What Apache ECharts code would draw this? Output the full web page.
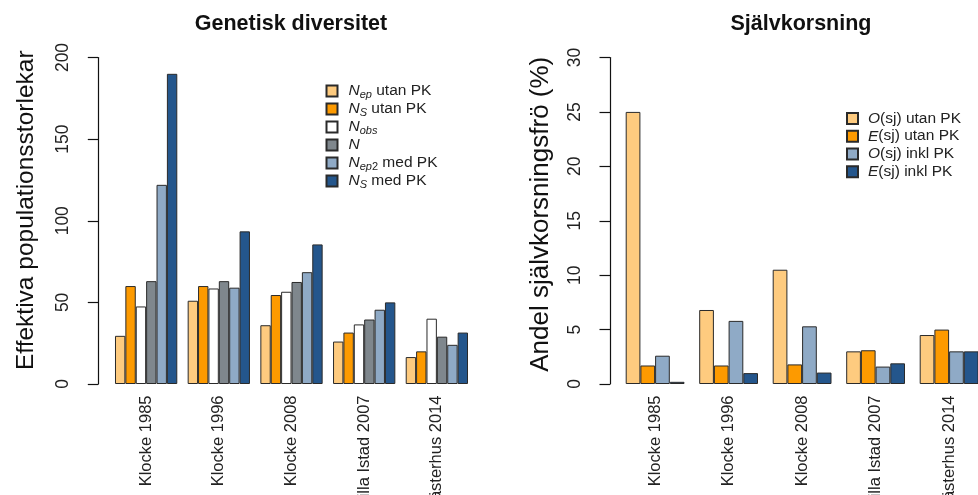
<!DOCTYPE html>
<html>
<head>
<meta charset="utf-8">
<script src="https://cdn.jsdelivr.net/npm/echarts@6/dist/echarts.min.js"></script>
<style>
html,body{margin:0;padding:0;background:#fff;}
#c{width:978px;height:495px;}
</style>
</head>
<body>
<div id="c"></div>
<script>
// ---------- data ----------
var categories = ['Klocke 1985', 'Klocke 1996', 'Klocke 2008', 'Lilla Istad 2007', 'Västerhus 2014'];

// Genetisk diversitet
var nepUtan  = [29.5, 51, 36, 26, 16.5];
var nsUtan   = [60, 60, 54.5, 31.5, 20];
var nObs     = [47.5, 58.5, 56.5, 36.5, 40];
var nTot     = [63, 63, 62.5, 39.5, 29];
var nep2Med  = [122, 59, 68.5, 45.5, 24];
var nsMed    = [190, 93.5, 85.5, 50, 31.5];

// Självkorsning (%)
var oUtan = [25, 6.8, 10.5, 3.0, 4.5];
var eUtan = [1.7, 1.7, 1.8, 3.1, 5.0];
var oInkl = [2.6, 5.8, 5.3, 1.6, 3.0];
var eInkl = [0.2, 1.0, 1.05, 1.9, 3.0];

var leftTitle = 'Genetisk diversitet';
var rightTitle = 'Självkorsning';
var leftYName = 'Effektiva populationsstorlekar';
var rightYName = 'Andel självkorsningsfrö (%)';

// ---------- styling ----------
var C = {
  lo: '#FECB7F', or: '#FD9A00', wh: '#FFFFFF', gr: '#7F878D', lb: '#8FAAC6', db: '#24568C'
};
var FONT = '"Liberation Sans", Arial, Helvetica, sans-serif';
var borderC = '#2a2a2a';

var leftSeries = [
  {name: 'Nep utan PK', data: nepUtan, color: C.lo, label: '{it|N}{sub|ep}{n| utan PK}'},
  {name: 'NS utan PK', data: nsUtan, color: C.or, label: '{it|N}{sub|S}{n| utan PK}'},
  {name: 'Nobs', data: nObs, color: C.wh, label: '{it|N}{sub|obs}'},
  {name: 'N', data: nTot, color: C.gr, label: '{it|N}'},
  {name: 'Nep2 med PK', data: nep2Med, color: C.lb, label: '{it|N}{sub|ep}{subn|2}{n| med PK}'},
  {name: 'NS med PK', data: nsMed, color: C.db, label: '{it|N}{sub|S}{n| med PK}'}
];
var rightSeries = [
  {name: 'O utan', data: oUtan, color: C.lo, label: '{it|O}{n|(sj) utan PK}'},
  {name: 'E utan', data: eUtan, color: C.or, label: '{it|E}{n|(sj) utan PK}'},
  {name: 'O inkl', data: oInkl, color: C.lb, label: '{it|O}{n|(sj) inkl PK}'},
  {name: 'E inkl', data: eInkl, color: C.db, label: '{it|E}{n|(sj) inkl PK}'}
];
var labelMap = {};
leftSeries.concat(rightSeries).forEach(function (s) { labelMap[s.name] = s.label; });

function richFor(lh) {
  return {
    it: {fontStyle: 'italic', fontSize: 15.5, lineHeight: lh, fontFamily: FONT, color: '#222'},
    n: {fontSize: 15.5, lineHeight: lh, fontFamily: FONT, color: '#222'},
    sub: {fontStyle: 'italic', fontSize: 11, lineHeight: lh, verticalAlign: 'bottom', fontFamily: FONT, color: '#222'},
    subn: {fontSize: 11, lineHeight: lh, verticalAlign: 'bottom', fontFamily: FONT, color: '#222'}
  };
}

function mkSeries(list, idx, catGap) {
  return list.map(function (s) {
    return {
      type: 'bar', name: s.name, data: s.data,
      xAxisIndex: idx, yAxisIndex: idx,
      barGap: '0%', barCategoryGap: catGap,
      itemStyle: {color: s.color, borderColor: borderC, borderWidth: 1},
      emphasis: {disabled: true},
      animation: false
    };
  });
}

function mkX(idx) {
  return {
    type: 'category', gridIndex: idx, data: categories,
    axisLine: {show: false}, axisTick: {show: false},
    axisLabel: {interval: 0, rotate: 90, fontSize: 16.5, margin: 11.5, color: '#222', fontFamily: FONT},
    splitLine: {show: false}
  };
}
function mkY(idx, max, interval, offset, name, nameGap, nameSize, shift) {
  return {
    type: 'value', gridIndex: idx, min: 0, max: max, interval: interval, offset: offset,
    axisLine: {show: true, lineStyle: {color: '#111', width: 1.2}},
    axisTick: {show: true, length: 10.5, lineStyle: {color: '#111', width: 1.2}},
    axisLabel: {rotate: 90, fontSize: 17.5, margin: 26, color: '#222', fontFamily: FONT},
    splitLine: {show: false},
    name: name, nameLocation: 'middle', nameGap: nameGap,
    nameTextStyle: {fontSize: nameSize, color: '#111', fontFamily: FONT, padding: [0, 0, 0, shift]}
  };
}

var chart = echarts.init(document.getElementById('c'), null, {renderer: 'canvas'});
chart.setOption({
  animation: false,
  backgroundColor: '#fff',
  textStyle: {fontFamily: FONT},
  grid: [
    {left: 109.8, width: 363.4, top: 57.5, height: 326.5, containLabel: false, outerBoundsMode: 'none'},
    {left: 618.35, width: 367.5, top: 57.5, height: 326.5, containLabel: false, outerBoundsMode: 'none'}
  ],
  xAxis: [mkX(0), mkX(1)],
  yAxis: [
    mkY(0, 200, 50, 11.5, leftYName, 60, 24.5, 21),
    mkY(1, 30, 5, 8.35, rightYName, 56, 26, 13)
  ],
  legend: [
    {
      orient: 'vertical', left: 325.5, top: 82, padding: 0, itemGap: 0,
      itemWidth: 11, itemHeight: 11, icon: 'rect', selectedMode: false,
      data: leftSeries.map(function (s) { return s.name; }),
      formatter: function (n) { return labelMap[n]; },
      textStyle: {padding: [0, 0, 0, 6], height: 18, lineHeight: 18, rich: richFor(18)}
    },
    {
      orient: 'vertical', left: 846, top: 109.5, padding: 0, itemGap: 0,
      itemWidth: 11, itemHeight: 11, icon: 'rect', selectedMode: false,
      data: rightSeries.map(function (s) { return s.name; }),
      formatter: function (n) { return labelMap[n]; },
      textStyle: {padding: [0, 0, 0, 5], height: 17.8, lineHeight: 17.8, rich: richFor(17.8)}
    }
  ],
  graphic: [
    {type: 'text', x: 291, y: 13.5, silent: true,
     style: {text: leftTitle, textAlign: 'center', textVerticalAlign: 'top', fill: '#111',
             font: 'bold 21.5px ' + FONT}},
    {type: 'text', x: 801, y: 13.5, silent: true,
     style: {text: rightTitle, textAlign: 'center', textVerticalAlign: 'top', fill: '#111',
             font: 'bold 21.5px ' + FONT}}
  ],
  series: mkSeries(leftSeries, 0, '14.2857%').concat(mkSeries(rightSeries, 1, '20%'))
});
</script>
</body>
</html>
